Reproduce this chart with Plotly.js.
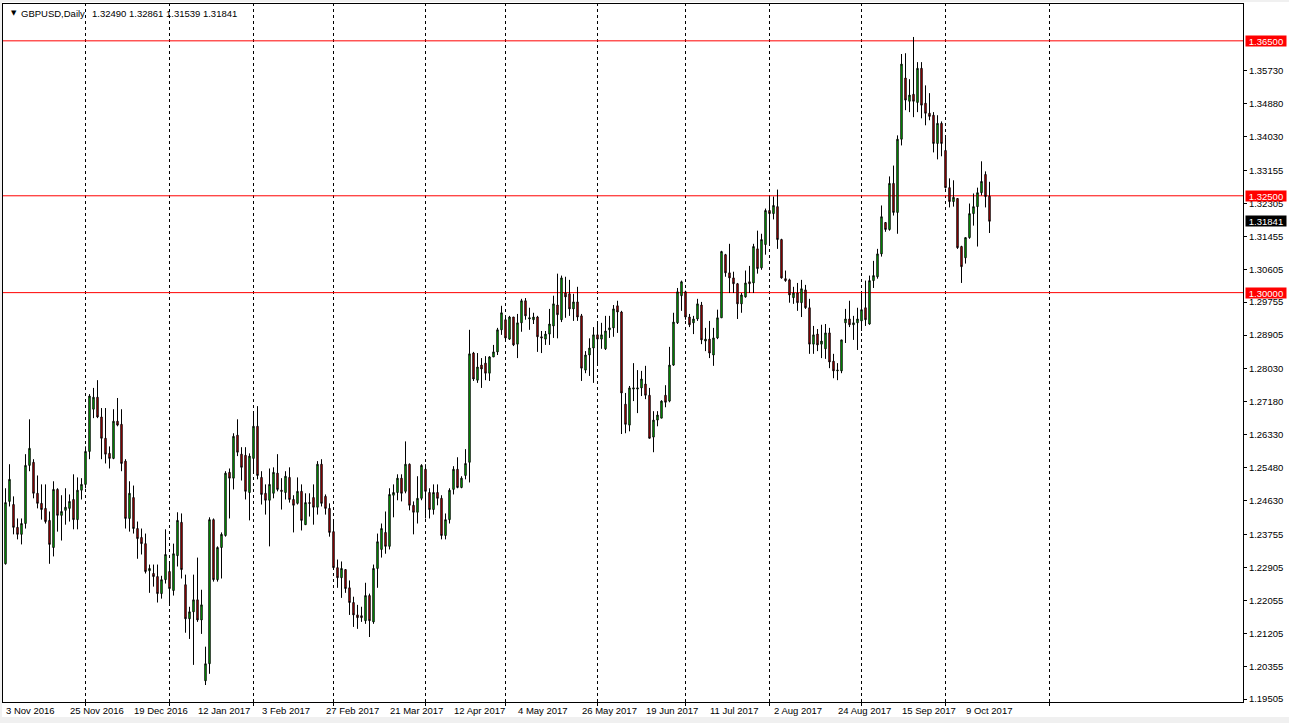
<!DOCTYPE html>
<html><head><meta charset="utf-8">
<script src="https://cdn.plot.ly/plotly-3.0.1.min.js"></script>
<style>
html,body{margin:0;padding:0;background:#f0f0f0;overflow:hidden;}
#chart{position:absolute;left:2px;top:2px;width:1287px;height:715px;background:#fff;}
</style>
</head><body><div id="chart"></div>
<script>
// ---- data (GBPUSD daily bars, index 0..246) ----
const openP = [
1.2300,1.2461,1.2453,1.2394,1.2376,1.2404,1.2554,1.2562,1.2482,1.2456,
1.2443,1.2412,1.2342,1.2492,1.2425,1.2438,1.2443,1.2466,1.2414,1.2490,
1.2505,1.2590,1.2699,1.2730,1.2679,1.2624,1.2585,1.2572,1.2668,1.2660,
1.2565,1.2417,1.2471,1.2391,1.2368,1.2352,1.2282,1.2275,1.2267,1.2223,
1.2259,1.2280,1.2231,1.2321,1.2407,1.2246,1.2158,1.2176,1.2207,1.2155,
1.1998,1.2042,1.2414,1.2259,1.2342,1.2373,1.2536,1.2521,1.2632,1.2583,
1.2580,1.2484,1.2572,1.2655,1.2523,1.2482,1.2464,1.2482,1.2534,1.2490,
1.2484,1.2523,1.2466,1.2456,1.2487,1.2401,1.2458,1.2471,1.2446,1.2557,
1.2474,1.2443,1.2383,1.2290,1.2264,1.2285,1.2238,1.2200,1.2168,1.2166,
1.2153,1.2218,1.2150,1.2288,1.2337,1.2381,1.2345,1.2477,1.2484,1.2521,
1.2487,1.2557,1.2451,1.2433,1.2469,1.2544,1.2484,1.2440,1.2484,1.2469,
1.2373,1.2414,1.2492,1.2544,1.2497,1.2528,1.2562,1.2844,1.2774,1.2813,
1.2818,1.2792,1.2834,1.2847,1.2904,1.2930,1.2880,1.2937,1.2867,1.2922,
1.2979,1.2932,1.2930,1.2937,1.2886,1.2880,1.2893,1.2914,1.2968,1.2930,
1.2999,1.2997,1.2958,1.2976,1.2940,1.2800,1.2839,1.2857,1.2891,1.2880,
1.2855,1.2904,1.2909,1.2966,1.2950,1.2712,1.2658,1.2751,1.2751,1.2754,
1.2764,1.2735,1.2627,1.2671,1.2676,1.2735,1.2720,1.2813,1.2922,1.2992,
1.3002,1.2937,1.2922,1.2932,1.2968,1.2875,1.2880,1.2839,1.2883,1.2935,
1.3098,1.3051,1.3038,1.3023,1.2971,1.2989,1.3028,1.3025,1.3113,1.3064,
1.3124,1.3212,1.3204,1.3222,1.3137,1.3036,1.3033,1.2987,1.2999,1.2974,
1.3007,1.2961,1.2867,1.2893,1.2867,1.2855,1.2896,1.2823,1.2798,1.2798,
1.2922,1.2932,1.2917,1.2922,1.2927,1.2961,1.2919,1.3031,1.3041,1.3100,
1.3181,1.3163,1.3282,1.3207,1.3396,1.3554,1.3494,1.3512,1.3491,1.3579,
1.3489,1.3463,1.3458,1.3385,1.3437,1.3367,1.3271,1.3235,1.3243,1.3119,
1.3090,1.3142,1.3204,1.3222,1.3258,1.3305,1.32490];
const highP = [
1.2495,1.2557,1.2474,1.2417,1.2417,1.2583,1.2673,1.2570,1.2528,1.2505,
1.2505,1.2435,1.2513,1.2495,1.2477,1.2495,1.2479,1.2531,1.2523,1.2521,
1.2603,1.2738,1.2754,1.2774,1.2702,1.2702,1.2603,1.2699,1.2728,1.2699,
1.2570,1.2513,1.2502,1.2409,1.2391,1.2378,1.2298,1.2298,1.2298,1.2269,
1.2389,1.2306,1.2352,1.2433,1.2430,1.2272,1.2189,1.2272,1.2316,1.2233,
1.2086,1.2420,1.2417,1.2345,1.2381,1.2539,1.2546,1.2637,1.2673,1.2601,
1.2601,1.2585,1.2689,1.2707,1.2539,1.2505,1.2546,1.2549,1.2583,1.2521,
1.2539,1.2549,1.2477,1.2523,1.2505,1.2482,1.2482,1.2505,1.2565,1.2570,
1.2479,1.2456,1.2409,1.2311,1.2306,1.2285,1.2257,1.2215,1.2194,1.2189,
1.2251,1.2223,1.2298,1.2378,1.2404,1.2435,1.2495,1.2505,1.2531,1.2531,
1.2616,1.2559,1.2461,1.2526,1.2557,1.2557,1.2495,1.2505,1.2505,1.2477,
1.2430,1.2495,1.2552,1.2575,1.2526,1.2596,1.2904,1.2847,1.2844,1.2831,
1.2836,1.2836,1.2865,1.2909,1.2966,1.2940,1.2940,1.2937,1.2945,1.2984,
1.2986,1.2961,1.2948,1.2940,1.2901,1.2901,1.2958,1.2992,1.3049,1.3044,
1.3041,1.3033,1.2997,1.3015,1.2945,1.2849,1.2882,1.2911,1.2922,1.2922,
1.2940,1.2940,1.2968,1.2979,1.2953,1.2741,1.2759,1.2818,1.2800,1.2798,
1.2811,1.2754,1.2694,1.2694,1.2722,1.2761,1.2860,1.2948,1.3012,1.3031,
1.3005,1.2945,1.2940,1.2984,1.2976,1.2909,1.2927,1.2909,1.2956,1.3108,
1.3100,1.3126,1.3054,1.3025,1.2999,1.3057,1.3069,1.3126,1.3160,1.3152,
1.3217,1.3248,1.3248,1.3266,1.3139,1.3057,1.3036,1.3015,1.3025,1.3033,
1.3020,1.2984,1.2914,1.2906,1.2917,1.2919,1.2909,1.2842,1.2818,1.2878,
1.2958,1.2979,1.2940,1.2961,1.2999,1.3031,1.3044,1.3082,1.3113,1.3225,
1.3181,1.3300,1.3328,1.3406,1.3616,1.3618,1.3551,1.3660,1.3595,1.3595,
1.3535,1.3515,1.3466,1.3458,1.3442,1.3401,1.3295,1.3290,1.3243,1.3121,
1.3142,1.3230,1.3256,1.3271,1.3339,1.3313,1.32861];
const lowP = [
1.2298,1.2448,1.2376,1.2363,1.2350,1.2391,1.2539,1.2469,1.2443,1.2414,
1.2404,1.2300,1.2319,1.2383,1.2360,1.2401,1.2409,1.2389,1.2389,1.2466,
1.2495,1.2570,1.2676,1.2676,1.2570,1.2559,1.2546,1.2570,1.2655,1.2539,
1.2391,1.2383,1.2378,1.2313,1.2324,1.2275,1.2225,1.2241,1.2200,1.2210,
1.2249,1.2197,1.2218,1.2293,1.2262,1.2122,1.2106,1.2039,1.2150,1.2119,
1.1987,1.2016,1.2254,1.2254,1.2262,1.2370,1.2417,1.2492,1.2578,1.2515,
1.2466,1.2412,1.2539,1.2518,1.2453,1.2427,1.2345,1.2469,1.2487,1.2440,
1.2466,1.2458,1.2381,1.2453,1.2386,1.2401,1.2422,1.2401,1.2427,1.2448,
1.2427,1.2370,1.2285,1.2238,1.2212,1.2225,1.2168,1.2137,1.2132,1.2150,
1.2145,1.2111,1.2145,1.2238,1.2316,1.2326,1.2337,1.2420,1.2464,1.2461,
1.2482,1.2438,1.2376,1.2404,1.2464,1.2417,1.2417,1.2427,1.2451,1.2363,
1.2363,1.2404,1.2479,1.2495,1.2495,1.2518,1.2510,1.2772,1.2767,1.2754,
1.2774,1.2772,1.2834,1.2839,1.2891,1.2875,1.2878,1.2862,1.2831,1.2899,
1.2930,1.2904,1.2919,1.2847,1.2844,1.2865,1.2865,1.2883,1.2882,1.2924,
1.2935,1.2940,1.2927,1.2927,1.2772,1.2792,1.2785,1.2767,1.2818,1.2855,
1.2852,1.2883,1.2886,1.2896,1.2635,1.2637,1.2642,1.2720,1.2689,1.2733,
1.2725,1.2624,1.2588,1.2655,1.2676,1.2704,1.2717,1.2811,1.2919,1.2953,
1.2930,1.2911,1.2893,1.2927,1.2867,1.2849,1.2831,1.2811,1.2880,1.2935,
1.3041,1.2999,1.2999,1.2932,1.2948,1.2987,1.2999,1.2999,1.3049,1.3059,
1.3098,1.3121,1.3189,1.3113,1.3036,1.3028,1.2974,1.2971,1.2953,1.2937,
1.2958,1.2842,1.2842,1.2849,1.2831,1.2829,1.2805,1.2779,1.2774,1.2792,
1.2870,1.2911,1.2878,1.2852,1.2901,1.2914,1.2917,1.3012,1.3036,1.3093,
1.3157,1.3160,1.3199,1.3152,1.3380,1.3471,1.3466,1.3453,1.3466,1.3450,
1.3432,1.3445,1.3362,1.3344,1.3352,1.3269,1.3220,1.3222,1.3113,1.3025,
1.3075,1.3139,1.3173,1.3119,1.3251,1.3220,1.31539];
const closeP = [
1.2458,1.2518,1.2394,1.2376,1.2404,1.2554,1.2598,1.2482,1.2456,1.2440,
1.2409,1.2350,1.2492,1.2425,1.2435,1.2446,1.2461,1.2414,1.2490,1.2505,
1.2590,1.2733,1.2730,1.2679,1.2624,1.2583,1.2572,1.2668,1.2658,1.2559,
1.2417,1.2482,1.2391,1.2365,1.2352,1.2280,1.2288,1.2267,1.2223,1.2259,
1.2324,1.2236,1.2326,1.2412,1.2285,1.2158,1.2176,1.2207,1.2155,1.2194,
1.2042,1.2414,1.2259,1.2342,1.2376,1.2534,1.2521,1.2629,1.2588,1.2549,
1.2487,1.2578,1.2655,1.2528,1.2479,1.2464,1.2505,1.2536,1.2492,1.2487,
1.2526,1.2466,1.2451,1.2487,1.2412,1.2458,1.2456,1.2446,1.2557,1.2456,
1.2443,1.2381,1.2290,1.2264,1.2288,1.2236,1.2200,1.2168,1.2161,1.2161,
1.2218,1.2153,1.2288,1.2357,1.2391,1.2345,1.2479,1.2484,1.2521,1.2482,
1.2557,1.2451,1.2433,1.2469,1.2554,1.2487,1.2440,1.2484,1.2469,1.2373,
1.2414,1.2490,1.2544,1.2497,1.2521,1.2559,1.2842,1.2777,1.2808,1.2803,
1.2792,1.2834,1.2847,1.2904,1.2948,1.2883,1.2937,1.2865,1.2922,1.2979,
1.2940,1.2935,1.2937,1.2886,1.2883,1.2893,1.2919,1.2971,1.2943,1.3038,
1.2989,1.2958,1.2976,1.2937,1.2805,1.2839,1.2857,1.2891,1.2880,1.2891,
1.2901,1.2909,1.2958,1.2950,1.2741,1.2660,1.2754,1.2754,1.2754,1.2777,
1.2735,1.2624,1.2671,1.2684,1.2720,1.2717,1.2813,1.2924,1.3002,1.3028,
1.2937,1.2917,1.2932,1.2971,1.2878,1.2880,1.2844,1.2883,1.2935,1.3106,
1.3051,1.3038,1.3023,1.2971,1.2994,1.3025,1.3023,1.3119,1.3062,1.3137,
1.3212,1.3204,1.3225,1.3137,1.3038,1.3031,1.2994,1.2999,1.2974,1.3010,
1.2961,1.2867,1.2891,1.2865,1.2875,1.2896,1.2821,1.2798,1.2800,1.2878,
1.2932,1.2917,1.2922,1.2932,1.2956,1.2930,1.3031,1.3044,1.3100,1.3196,
1.3163,1.3282,1.3207,1.3396,1.3590,1.3497,1.3510,1.3494,1.3579,1.3484,
1.3463,1.3455,1.3385,1.3437,1.3385,1.3271,1.3235,1.3246,1.3116,1.3067,
1.3142,1.3204,1.3222,1.3258,1.3287,1.3248,1.31841];

const dateLabels = ['3 Nov 2016','25 Nov 2016','19 Dec 2016','12 Jan 2017','3 Feb 2017',
  '27 Feb 2017','21 Mar 2017','12 Apr 2017','4 May 2017','26 May 2017','19 Jun 2017',
  '11 Jul 2017','2 Aug 2017','24 Aug 2017','15 Sep 2017','9 Oct 2017'];
const dateLabelBars = [0,16,32,48,64,80,96,112,128,144,160,176,192,208,224,240];
const monthStartBars = [20,41,62,82,105,125,148,170,191,214,235,261];
const priceTicks = [1.35730,1.34880,1.34030,1.33155,1.32305,1.31455,1.30605,1.29755,
  1.28905,1.28030,1.27180,1.26330,1.25480,1.24630,1.23755,1.22905,1.22055,1.21205,
  1.20355,1.19505];
const levelValues = [1.36500,1.32500,1.30000];
const lastPrice = 1.31841;
const headerSymbol = 'GBPUSD,Daily';
const headerOHLC = '1.32490 1.32861 1.31539 1.31841';

const bars = openP.map((_, i) => i);
const FONT = 'Liberation Sans, Arial, sans-serif';
const plotLeftPx = 3, plotWidthPx = 1240;

const trace = {
  type: 'candlestick',
  x: bars, open: openP, high: highP, low: lowP, close: closeP,
  increasing: {line: {color: '#000000', width: 1}, fillcolor: '#00ff00'},
  decreasing: {line: {color: '#000000', width: 1}, fillcolor: '#ff0000'},
  whiskerwidth: 0,
  hoverinfo: 'skip',
  showlegend: false
};

const shapes = [];
monthStartBars.forEach(m => {
  shapes.push({type: 'line', xref: 'x', yref: 'paper', x0: m, x1: m, y0: 0, y1: 1,
    line: {color: '#000000', width: 1, dash: '3px,3px'}, layer: 'below'});
  shapes.push({type: 'line', xref: 'x', yref: 'paper', ysizemode: 'pixel', yanchor: 0,
    x0: m, x1: m, y0: 0, y1: -4, line: {color: '#000000', width: 1}});
});
levelValues.forEach(v => {
  shapes.push({type: 'line', xref: 'paper', yref: 'y', x0: 0, x1: 1, y0: v, y1: v,
    line: {color: '#ff0000', width: 1}, layer: 'below'});
});

const annotations = [];
levelValues.forEach(v => {
  annotations.push({xref: 'paper', x: 1, xanchor: 'left', xshift: 2, yref: 'y', y: v,
    yanchor: 'middle', text: v.toFixed(5), showarrow: false, bgcolor: '#ff0000',
    font: {family: FONT, size: 9.5, color: '#ffffff'}, width: 40, height: 10, borderpad: 0});
});
annotations.push({xref: 'paper', x: 1, xanchor: 'left', xshift: 2, yref: 'y', y: lastPrice,
  yanchor: 'middle', text: lastPrice.toFixed(5), showarrow: false, bgcolor: '#000000',
  font: {family: FONT, size: 9.5, color: '#ffffff'}, width: 40, height: 10, borderpad: 0});
annotations.push({xref: 'paper', x: (9 - plotLeftPx) / plotWidthPx, xanchor: 'left',
  yref: 'paper', y: 1, yanchor: 'middle', yshift: -9, text: '▼', showarrow: false,
  font: {family: 'DejaVu Sans', size: 7, color: '#000000'}});
annotations.push({xref: 'paper', x: (19 - plotLeftPx) / plotWidthPx, xanchor: 'left',
  yref: 'paper', y: 1, yanchor: 'middle', yshift: -9, text: headerSymbol, showarrow: false,
  font: {family: FONT, size: 9.5, color: '#000000'}});
annotations.push({xref: 'paper', x: (90 - plotLeftPx) / plotWidthPx, xanchor: 'left',
  yref: 'paper', y: 1, yanchor: 'middle', yshift: -9, text: headerOHLC, showarrow: false,
  font: {family: FONT, size: 9.5, color: '#000000'}});

const layout = {
  width: 1287, height: 715,
  margin: {l: 1, r: 46, t: 2, b: 15, pad: 0},
  paper_bgcolor: '#ffffff', plot_bgcolor: '#ffffff',
  showlegend: false,
  boxgap: 0.5,
  font: {family: FONT, size: 9.5, color: '#000000'},
  xaxis: {
    range: [-0.625, 309.375], fixedrange: true,
    rangeslider: {visible: false},
    tickmode: 'array', tickvals: dateLabelBars, ticktext: dateLabels,
    ticks: '', ticklabelposition: 'outside right',
    tickfont: {family: FONT, size: 9.5, color: '#000000'},
    showgrid: false, zeroline: false,
    showline: true, mirror: true, linecolor: '#000000', linewidth: 1
  },
  yaxis: {
    side: 'right', range: [1.19432, 1.37451], fixedrange: true,
    tickmode: 'array', tickvals: priceTicks, ticktext: priceTicks.map(v => v.toFixed(5)),
    ticks: 'outside', ticklen: 3, tickcolor: '#000000',
    tickfont: {family: FONT, size: 9.5, color: '#000000'},
    showgrid: false, zeroline: false,
    showline: true, mirror: true, linecolor: '#000000', linewidth: 1
  },
  shapes: shapes,
  annotations: annotations
};

Plotly.newPlot('chart', [trace], layout, {displayModeBar: false, staticPlot: true});
</script>
</body></html>
